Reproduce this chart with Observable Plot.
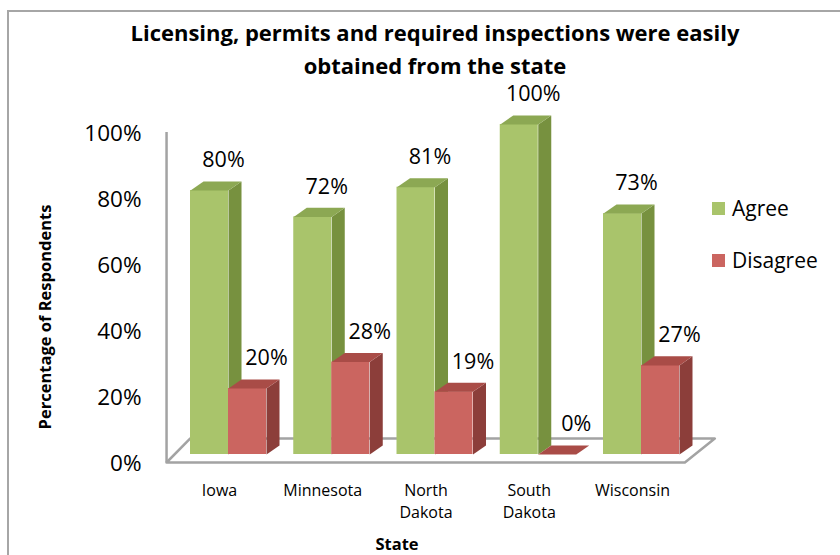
<!DOCTYPE html>
<html>
<head>
<meta charset="utf-8">
<script src="https://cdn.jsdelivr.net/npm/d3@7"></script>
<script src="https://cdn.jsdelivr.net/npm/@observablehq/plot@0.6"></script>
<style>
  html, body { margin: 0; padding: 0; background: #fff; overflow: hidden; }
  #wrap { position: relative; width: 840px; height: 555px; font-family: "Open Sans", sans-serif; color: #000; }
  #border { position: absolute; left: 7px; top: 10px; width: 900px; height: 700px; border: 2px solid #a6a6a6; box-sizing: border-box; }
  #chart { position: absolute; left: 0; top: 0; }
  #title { position: absolute; left: 0; top: 16px; width: 870px; text-align: center; font-weight: bold; font-size: 22px; line-height: 33px; }
  #ytitle { position: absolute; left: 44px; top: 317px; transform: translate(-50%, -50%) rotate(-90deg); font-weight: bold; font-size: 16.5px; white-space: nowrap; }
  #xtitle { position: absolute; left: 397px; top: 543px; transform: translate(-50%, -50%); font-weight: bold; font-size: 16.5px; }
  .leg { position: absolute; left: 712px; display: flex; align-items: center; font-size: 21px; white-space: nowrap; }
  .leg span.sw { display: inline-block; width: 13px; height: 13px; margin-right: 7px; }
</style>
</head>
<body>
<div id="wrap">
  <div id="border"></div>
  <div id="chart"></div>
  <div id="title">Licensing, permits and required inspections were easily<br>obtained from the state</div>
  <div id="ytitle">Percentage of Respondents</div>
  <div id="xtitle">State</div>
  <div id="legend"></div>
</div>
<script>
// ---- data ----
const states = ["Iowa", "Minnesota", "North\nDakota", "South\nDakota", "Wisconsin"];
const agree = [80, 72, 81, 100, 73];
const disagree = [20, 28, 19, 0, 27];
const seriesNames = ["Agree", "Disagree"];
const yTicks = [0, 20, 40, 60, 80, 100];

// ---- styles ----
const colors = {
  Agree: {front: "#a9c46b", side: "#77913f", top: "#8ca853"},
  Disagree: {front: "#cb6560", side: "#8c3e3a", top: "#a94c47"}
};
const labelDx = {Agree: 14, Disagree: 19};
const barW = 0.368;     // bar width in group units
const depX = 0.126;     // bar depth (x, group units)
const depY = 2.75;      // bar depth (y, percent units)

const n = states.length;
const bars = [];
states.forEach((s, i) => {
  bars.push({state: s, i, series: "Agree", value: agree[i], x1: i - barW, x2: i});
  bars.push({state: s, i, series: "Disagree", value: disagree[i], x1: i, x2: i + barW});
});

function sideVerts(b) {
  const id = b.series + b.i;
  return [
    {id, x: b.x2, y: 0}, {id, x: b.x2, y: b.value},
    {id, x: b.x2 + depX, y: b.value + depY}, {id, x: b.x2 + depX, y: depY}
  ];
}
function topVerts(b) {
  const id = b.series + b.i;
  return [
    {id, x: b.x1, y: b.value}, {id, x: b.x2, y: b.value},
    {id, x: b.x2 + depX, y: b.value + depY}, {id, x: b.x1 + depX, y: b.value + depY}
  ];
}

// floor (front plane is shifted down by 8px via dy)
const floorBack = 7.3;
const floorPts = [
  {x: -0.6, y: 0}, {x: n - 1 + 0.42, y: 0}, {x: n - 1 + 0.71, y: floorBack},
  {x: -0.37, y: floorBack}, {x: -0.6, y: 0}
];

const marks = [
  Plot.line(floorPts, {x: "x", y: "y", dy: 8, fill: "white", stroke: "#a3a3a3", strokeWidth: 2.5}),
  Plot.ruleX([-0.6], {y1: 0, y2: 100, dy: 8, stroke: "#a3a3a3", strokeWidth: 2.5})
];
for (const s of seriesNames) {
  const bs = bars.filter(d => d.series === s);
  marks.push(
    Plot.rect(bs, {x1: "x1", x2: "x2", y1: 0, y2: "value", fill: colors[s].front}),
    Plot.line(bs.flatMap(sideVerts), {x: "x", y: "y", z: "id", fill: colors[s].side, stroke: "none"}),
    Plot.line(bs.flatMap(topVerts), {x: "x", y: "y", z: "id", fill: colors[s].top, stroke: "none"}),
    Plot.text(bs, {
      x: d => (d.x1 + d.x2) / 2, y: "value", text: d => d.value + "%",
      dx: labelDx[s], dy: -30, fontSize: 21.5, fill: "#000", lineAnchor: "middle"
    })
  );
}
marks.push(
  Plot.text(states, {
    x: (d, i) => i, y: () => 0, text: d => d, dx: -9, dy: 26,
    fontSize: 16, lineAnchor: "top", lineHeight: 1.37, fill: "#000"
  }),
  Plot.axisY({
    ticks: yTicks, tickFormat: d => d + "%", tickSize: 0, tickPadding: 4,
    dy: 9, fontSize: 22.5, label: null, fill: "#000"
  })
);

const chart = Plot.plot({
  width: 840, height: 555,
  marginLeft: 145, marginTop: 0, marginRight: 0, marginBottom: 0,
  style: {fontFamily: "'Open Sans', sans-serif", background: "transparent", overflow: "visible", color: "#000"},
  x: {type: "linear", domain: [0, n - 1], range: [228, 641], axis: null},
  y: {domain: [0, 100], range: [454, 124], axis: null},
  marks
});
document.getElementById("chart").appendChild(chart);

// legend
const legend = document.getElementById("legend");
seriesNames.forEach((s, k) => {
  const div = document.createElement("div");
  div.className = "leg";
  div.style.top = (k === 0 ? 194 : 246) + "px";
  div.innerHTML = `<span class="sw" style="background:${colors[s].front}"></span>${s}`;
  legend.appendChild(div);
});
</script>
</body>
</html>
